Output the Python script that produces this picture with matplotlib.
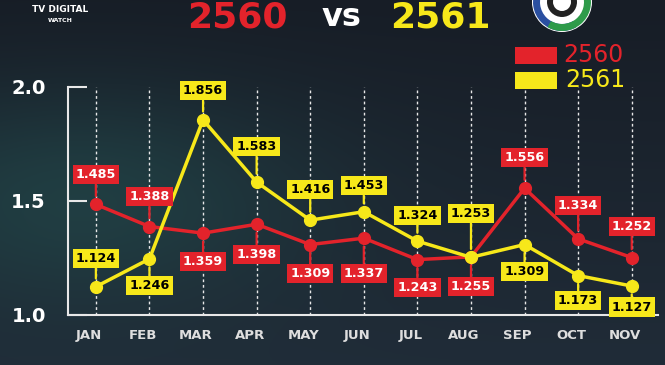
import numpy as np
import matplotlib.pyplot as plt
from matplotlib.patches import Rectangle, Circle, Wedge
from matplotlib.transforms import ScaledTranslation

# ข้อมูล
months = ['JAN', 'FEB', 'MAR', 'APR', 'MAY', 'JUN', 'JUL', 'AUG', 'SEP', 'OCT', 'NOV']
values_2560 = [1.485, 1.388, 1.359, 1.398, 1.309, 1.337, 1.243, 1.255, 1.556, 1.334, 1.252]
values_2561 = [1.124, 1.246, 1.856, 1.583, 1.416, 1.453, 1.324, 1.253, 1.309, 1.173, 1.127]
yticks = [1.0, 1.5, 2.0]

# layout of callout boxes (pixel offset of box from its point)
offs_2560 = [30, 30, -28, -30, -29, -35, -28, -30, 31, 33, 31]
offs_2561 = [28, -27, 29, 36, 31, 26, 26, 44, -27, -25, -21]

RED = '#e3232b'
YELLOW = '#f7e81a'

fig = plt.figure(figsize=(6.65, 3.65), dpi=100)

# background
bg = fig.add_axes([0, 0, 1, 1], zorder=-10)
yy, xx = np.mgrid[0:1:200j, 0:1:360j]
top = np.array([0x17, 0x1d, 0x26]) / 255
bot = np.array([0x20, 0x2c, 0x38]) / 255
img = top[None, None, :] * (1 - yy[..., None]) + bot[None, None, :] * yy[..., None]
glow = np.exp(-(((xx - 0.12) / 0.35) ** 2 + ((yy - 0.55) / 0.3) ** 2))
teal = np.array([0x22, 0x48, 0x4a]) / 255
img = img * (1 - 0.7 * glow[..., None]) + teal[None, None, :] * 0.7 * glow[..., None]
bg.imshow(img, aspect='auto', extent=[0, 1, 0, 1], origin='upper')
bg.set_xlim(0, 1)
bg.set_ylim(0, 1)
bg.axis('off')

ax = fig.add_axes([68 / 665, 1 - 315 / 365, 590 / 665, 228 / 365])
ax.patch.set_alpha(0)
x = np.arange(len(months))

for xi in x:
    ax.axvline(xi, color='#e8e8e8', lw=1, ls=(0, (2, 2)), zorder=1)

ax.plot(x, values_2560, color=RED, lw=2.5, marker='o', ms=8.5, zorder=3)
ax.plot(x, values_2561, color=YELLOW, lw=2.5, marker='o', ms=8.5, zorder=4)

def callouts(vals, offs, fc, tc):
    for xi, v, o in zip(x, vals, offs):
        ax.annotate(f'{v:.3f}', (xi, v), xytext=(0, o), textcoords='offset pixels',
                    ha='center', va='center', fontsize=9.2, fontweight='bold', color=tc,
                    bbox=dict(boxstyle='square,pad=0.24', fc=fc, ec='none'),
                    arrowprops=dict(arrowstyle='-', color=fc, lw=1.6, shrinkA=0, shrinkB=6),
                    zorder=6, annotation_clip=False)

callouts(values_2560, offs_2560, RED, 'white')
callouts(values_2561, offs_2561, YELLOW, 'black')

ax.set_xlim(-0.52, len(months) - 1 + 0.49)
ax.set_ylim(1.0, 2.0)
ax.set_xticks(x)
ax.set_xticklabels(months, fontsize=9.5, fontweight='bold', color='#dedede')
ax.set_yticks(yticks)
ax.set_yticklabels([f'{t:.1f}' for t in yticks], fontsize=14, fontweight='bold', color='white')
ax.tick_params(axis='x', length=0, pad=10)
ax.tick_params(axis='y', direction='in', length=14, width=1.5, color='#e8e8e8', pad=16)
for lab in ax.get_xticklabels():
    lab.set_transform(lab.get_transform() + ScaledTranslation(-7 / 100, 0, fig.dpi_scale_trans))
for s in ['top', 'right']:
    ax.spines[s].set_visible(False)
for s in ['left', 'bottom']:
    ax.spines[s].set_color('#e8e8e8')
    ax.spines[s].set_linewidth(1.5)

# title
fig.text(237 / 665, 1 - 18 / 365, '2560', color=RED, fontsize=26, fontweight='bold', ha='center', va='center')
fig.text(341 / 665, 1 - 18 / 365, 'vs', color='white', fontsize=23, fontweight='bold', ha='center', va='center')
fig.text(440 / 665, 1 - 18 / 365, '2561', color=YELLOW, fontsize=26, fontweight='bold', ha='center', va='center')

fig.text(60 / 665, 1 - 9 / 365, 'TV DIGITAL', color='white', fontsize=6.5, fontweight='bold', ha='center', va='center')
fig.text(60 / 665, 1 - 21 / 365, 'WATCH', color='white', fontsize=4.5, fontweight='bold', ha='center', va='center')

# logo
fig.patches.append(Circle((562, 365 - 2), 30, transform=None, fc='white', ec='none'))
fig.patches.append(Wedge((562, 365 - 2), 29, 150, 300, width=7, transform=None, fc='#2a4fa0', ec='none'))
fig.patches.append(Wedge((562, 365 - 2), 29, 240, 20, width=7, transform=None, fc='#2e9b4a', ec='none'))
fig.patches.append(Circle((562, 365 - 2), 15, transform=None, fc='#222', ec='none'))
fig.patches.append(Circle((562, 365 - 2), 9, transform=None, fc='white', ec='none'))

# legend
fig.patches.append(Rectangle((515 / 665, 1 - 64 / 365), 42 / 665, 17 / 365,
                             transform=fig.transFigure, fc=RED, ec='none'))
fig.patches.append(Rectangle((515 / 665, 1 - 89 / 365), 42 / 665, 17 / 365,
                             transform=fig.transFigure, fc=YELLOW, ec='none'))
fig.text(563 / 665, 1 - 55 / 365, '2560', color=RED, fontsize=17, ha='left', va='center')
fig.text(565 / 665, 1 - 80 / 365, '2561', color=YELLOW, fontsize=17, ha='left', va='center')

fig.savefig('out.png', dpi=100)
